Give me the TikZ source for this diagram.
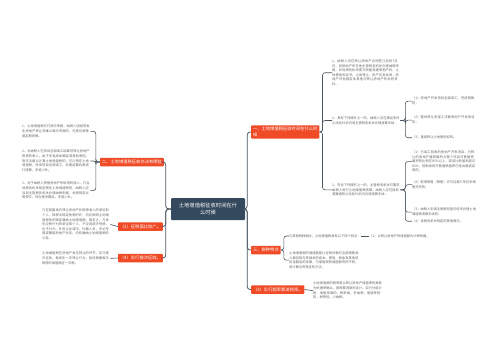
\documentclass[tikz,border=0pt]{standalone}
\usepackage{fontspec}
\setmainfont{Noto Sans CJK SC}
\XeTeXlinebreaklocale "zh"
\XeTeXlinebreakskip=0pt plus 0.5pt
\usepackage{tikz}
\usetikzlibrary{positioning}
\usepackage{xcolor}
\definecolor{topicred}{HTML}{EF4B26}
\definecolor{rootslate}{HTML}{34495E}
\definecolor{leafgray}{HTML}{666666}
\definecolor{linegray}{HTML}{4A5560}

\begin{document}
\begin{tikzpicture}[
  x=1pt, y=-1pt,
  root/.style={fill=rootslate, text=white, rounded corners=1pt, minimum width=74pt,
               minimum height=22pt, align=center, inner sep=1pt,
               font=\fontsize{5.3}{7.4}\selectfont},
  topic/.style={fill=topicred, text=white, rounded corners=0.8pt, align=left,
                inner sep=1.8pt, minimum height=8.5pt, font=\fontsize{4.3}{5.6}\selectfont},
  leaf/.style={text=leafgray, inner sep=0pt, align=left, text width=68pt,
               font=\fontsize{3.25}{4.6}\selectfont},
  subleaf/.style={leaf, text width=64pt},
  trunk/.style={draw=linegray, line width=0.8pt, rounded corners=3pt},
  branch/.style={draw=linegray, line width=0.6pt, rounded corners=2.5pt}
]
  \fill[white] (0,0) rectangle (500,360);

  % Root
  \node[root] (root) at (208,209) {土地增值税征收时间在什\\么时候};

  % Right topics
  \node[topic, anchor=west] (timing) at (251,132) {一、土地增值税征收时间在什么时\\候};
  \node[topic, anchor=west] (traits) at (251,250) {三、税种特点};
  \node[topic, anchor=west] (rate) at (251,289.5) {（3）实行超率累进税率。};

  % Left topics
  \node[topic, anchor=east] (method) at (164,162) {二、土地增值税征收办法有哪些};
  \node[topic, anchor=east] (scope) at (163,226.5) {（2）征税面比较广。};
  \node[topic, anchor=east] (once) at (163,258) {（4）实行按次征收。};

  % Timing leaves
  \node[leaf, anchor=north west] (tm1) at (332,59.5) {1、纳税人应在转让房地产合同签订后的7日内，到房地产所在地主管税务机关办理纳税申报，并向税务机关提交房屋及建筑物产权、土地使用权证书，土地转让、房产买卖合同，房地产评估报告及其他与转让房地产有关的资料。};
  \node[leaf, anchor=north west] (tm2) at (332,116.5) {2、具有下列情形之一的，纳税人应在满足条件之日起90日内到主管税务机关办理清算手续：};
  \node[leaf, anchor=north west] (tm3) at (332,183.5) {3、符合下列情形之一的，主管税务机关可要求纳税人进行土地增值税清算，纳税人应在接到清算通知之日起90日内办理清算手续：};

  \node[subleaf, anchor=north west] (tm21) at (412,97) {（1）房地产开发项目全部竣工、完成销售的；};
  \node[subleaf, anchor=north west] (tm22) at (412,116) {（2）整体转让未竣工决算房地产开发项目的；};
  \node[subleaf, anchor=north west] (tm23) at (412,136) {（3）直接转让土地使用权的。};

  \node[subleaf, anchor=north west] (tm31) at (412,150.5) {（1）已竣工验收的房地产开发项目，已转让的房地产建筑面积占整个项目可售建筑面积的比例在85\%以上，或该比例虽未超过85\%，但剩余的可售建筑面积已经出租或自用的；};
  \node[subleaf, anchor=north west] (tm32) at (412,180.5) {（2）取得销售（预售）许可证满三年仍未销售完毕的；};
  \node[subleaf, anchor=north west] (tm33) at (412,208) {（3）纳税人申请注销税务登记但未办理土地增值税清算手续的；};
  \node[subleaf, anchor=north west] (tm34) at (412,219.5) {（4）省税务机关规定的其他情况。};

  % Traits leaves
  \node[leaf, text width=, anchor=west] (tr1) at (289,236) {与其他税种相比，土地增值税具有以下四个特点：};
  \node[leaf, text width=, anchor=west] (tr11) at (369,236) {（1）以转让房地产的增值额为计税依据。};
  \node[leaf, text width=70pt, anchor=north west] (tr2) at (289,251.5) {土地增值税的增值额是以征税对象的全部销售收入额扣除与其相关的成本、费用、税金及其他项目金额后的余额，与增值税的增值额有所不同，其计算也有特定的方法。};

  \node[leaf, text width=69pt, anchor=north west] (rt1) at (313,282) {土地增值税的税率是以转让房地产增值率的高低为依据来确认，按照累进原则设计，实行分级计税，增值率高的，税率高，多纳税；增值率低的，税率低，少纳税。};

  % Method leaves
  \node[leaf, anchor=north west] (md1) at (22,125) {1、土地增值税实行按次申报，纳税人因经常发生房地产转让而难以每次申报的，可按月或季度定期申报。};
  \node[leaf, anchor=north west] (md2) at (22,150) {2、对纳税人在项目全部竣工结算前转让房地产取得的收入，由于涉及成本确定或其他原因，而无法据以计算土地增值税的，可以预征土地增值税，待该项目全部竣工、办理结算后再进行清算，多退少补。};
  \node[leaf, anchor=north west] (md3) at (22,182) {3、对于纳税人预售房地产所取得的收入，凡当地税务机关规定预征土地增值税的，纳税人应当到主管税务机关办理纳税申报，并按规定比例预交，待办理决算后，多退少补。};

  \node[leaf, anchor=north west] (sc1) at (42,209) {凡在我国境内转让房地产并取得收入的单位和个人，除税法规定免税的外，均应依照土地增值税条例规定缴纳土地增值税。换言之，凡发生应税行为的单位和个人，不论其经济性质，也不分内、外资企业或中、外籍人员，无论专营或兼营房地产业务，均有缴纳土地增值税的义务。};
  \node[leaf, anchor=north west] (on1) at (42,252) {土地增值税在房地产发生转让的环节，实行按次征收，每发生一次转让行为，就应根据每次取得的增值额征一次税。};

  % Trunks
  \draw[trunk] (root.east) -- ++(2,0) |- (timing.west);
  \draw[trunk] (root.east) -- ++(2,0) |- (traits.west);
  \draw[trunk] (root.east) -- ++(2,0) |- (rate.west);
  \draw[trunk] (root.west) -- ++(-5,0) |- (method.east);
  \draw[trunk] (root.west) -- ++(-5,0) |- (scope.east);
  \draw[trunk] (root.west) -- ++(-5,0) |- (once.east);

  % Branches
  \foreach \leafname in {tm1,tm2,tm3}
    \draw[branch] (timing.east) -- ++(3,0) |- (\leafname.west);
  \foreach \leafname in {tm21,tm22,tm23}
    \draw[branch] (tm2.east) -- ++(5,0) |- (\leafname.west);
  \foreach \leafname in {tm31,tm32,tm33,tm34}
    \draw[branch] (tm3.east) -- ++(5,0) |- (\leafname.west);
  \foreach \leafname in {tr1,tr2}
    \draw[branch] (traits.east) -- ++(3,0) |- (\leafname.west);
  \draw[branch] (tr1.east) -- (tr11.west);
  \draw[branch] (rate.east) -- (rt1.west);
  \foreach \leafname in {md1,md2,md3}
    \draw[branch] (method.west) -- ++(-4,0) |- (\leafname.east);
  \draw[branch] (scope.west) -- (sc1.east);
  \draw[branch] (once.west) -- (on1.east);
\end{tikzpicture}
\end{document}
